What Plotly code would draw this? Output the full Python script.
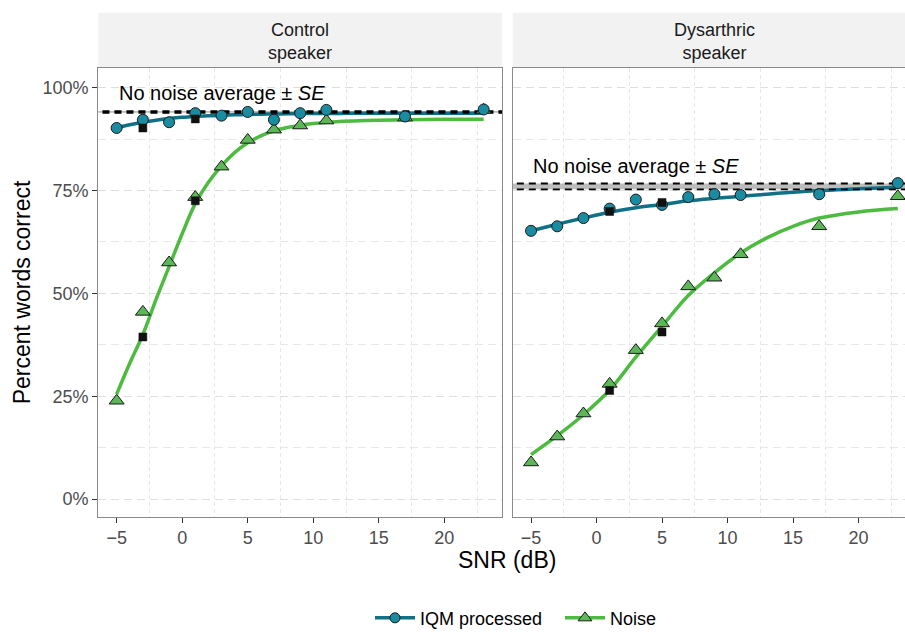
import plotly.graph_objects as go

# ---------------- data ----------------
snr_points = [-5, -3, -1, 1, 3, 5, 7, 9, 11, 17, 23]
ctrl_iqm = [90.2, 92.2, 91.6, 93.8, 93.2, 94.1, 92.2, 93.8, 94.6, 93.0, 94.7]
ctrl_noise = [23.9, 45.5, 57.5, 73.4, 80.8, 87.3, 89.8, 90.8, 92.0, 92.7, 94.6]
dys_iqm = [65.2, 66.3, 68.3, 70.6, 72.8, 71.5, 73.4, 74.1, 73.9, 74.1, 76.8]
dys_noise = [8.9, 15.2, 20.8, 28.0, 36.2, 42.7, 51.7, 53.8, 59.5, 66.3, 73.6]

sq_ctrl_x = [-3, -3, 1, 1]
sq_ctrl_y = [39.4, 90.2, 72.5, 92.4]
sq_dys_x = [1, 1, 5, 5]
sq_dys_y = [26.4, 69.9, 40.6, 72.1]

fit_x_ctrl = [-5, -4, -3, -2, -1, 0, 1, 2, 3, 4, 5, 6, 7, 8, 9, 10, 12, 14, 17, 20, 23]
ctrl_noise_fit = [25.5, 33.0, 40.0, 48.5, 56.5, 64.5, 71.8, 77.0, 81.0, 84.2, 86.6, 88.3,
                  89.5, 90.3, 90.9, 91.3, 91.8, 92.0, 92.2, 92.3, 92.3]
ctrl_iqm_fit = [90.3, 91.0, 91.6, 92.1, 92.5, 92.8, 93.0, 93.15, 93.3, 93.4, 93.5, 93.55,
                93.6, 93.65, 93.7, 93.7, 93.75, 93.8, 93.8, 93.8, 93.8]

fit_x_dys = [-5, -3, -1, 1, 3, 5, 7, 9, 11, 13, 15, 17, 20, 23]
dys_iqm_fit = [65.2, 66.8, 68.3, 69.7, 70.8, 71.6, 72.5, 73.1, 73.6, 74.1, 74.6, 75.0, 75.4, 75.8]
dys_noise_fit = [10.8, 15.4, 20.5, 26.5, 34.5, 42.0, 49.5, 55.0, 59.8, 63.5, 66.3, 68.3, 69.8, 70.6]

ctrl_avg, ctrl_se = 94.1, 0.2
dys_avg, dys_se = 76.0, 0.7

panels = ["Control<br>speaker", "Dysarthric<br>speaker"]
y_tickvals = [0, 25, 50, 75, 100]
y_ticktext = ["0%", "25%", "50%", "75%", "100%"]
x_tickvals = [-5, 0, 5, 10, 15, 20]
series_names = ["IQM processed", "Noise"]

# ---------------- style ----------------
TEAL_LINE = "#0f7086"
TEAL_FILL = "#1a8ca2"
GREEN_LINE = "#4cbb3f"
GREEN_FILL = "#5cb857"
FONT = "Liberation Sans, Arial, sans-serif"
W, H = 905, 637

fig = go.Figure()

panel_data = [
    ("x", "y", ctrl_avg, ctrl_se, fit_x_ctrl, ctrl_iqm_fit, ctrl_noise_fit,
     ctrl_iqm, ctrl_noise, sq_ctrl_x, sq_ctrl_y),
    ("x2", "y2", dys_avg, dys_se, fit_x_dys, dys_iqm_fit, dys_noise_fit,
     dys_iqm, dys_noise, sq_dys_x, sq_dys_y),
]

for (xa, ya, avg, se, fx, fiqm, fnoise, piqm, pnoise, sqx, sqy) in panel_data:
    # SE band
    fig.add_trace(go.Scatter(x=[-7, 25, 25, -7], y=[avg - se, avg - se, avg + se, avg + se],
                             fill="toself", fillcolor="#bdbdbd", line=dict(width=0),
                             mode="lines", showlegend=False, hoverinfo="skip",
                             xaxis=xa, yaxis=ya))
    # fitted curves
    fig.add_trace(go.Scatter(x=fx, y=fnoise, mode="lines",
                             line=dict(color=GREEN_LINE, width=3.5, shape="spline", smoothing=1),
                             showlegend=False, xaxis=xa, yaxis=ya))
    fig.add_trace(go.Scatter(x=fx, y=fiqm, mode="lines",
                             line=dict(color=TEAL_LINE, width=3.5, shape="spline", smoothing=1),
                             showlegend=False, xaxis=xa, yaxis=ya))
    # dashed band edges
    for yy in (avg - se, avg + se):
        fig.add_trace(go.Scatter(x=[-7, 25], y=[yy, yy], mode="lines",
                                 line=dict(color="black", width=1.8, dash="7px,5px"),
                                 showlegend=False, hoverinfo="skip", xaxis=xa, yaxis=ya))
    # points
    fig.add_trace(go.Scatter(x=snr_points, y=pnoise, mode="markers",
                             marker=dict(symbol="triangle-up", size=13, color=GREEN_FILL,
                                         line=dict(color="#1a1a1a", width=1)),
                             showlegend=False, xaxis=xa, yaxis=ya))
    fig.add_trace(go.Scatter(x=snr_points, y=piqm, mode="markers",
                             marker=dict(symbol="circle", size=11, color=TEAL_FILL,
                                         line=dict(color="#1a1a1a", width=1)),
                             showlegend=False, xaxis=xa, yaxis=ya))
    fig.add_trace(go.Scatter(x=sqx, y=sqy, mode="markers",
                             marker=dict(symbol="square", size=8, color="#111111",
                                         line=dict(color="#111111", width=0.5)),
                             showlegend=False, xaxis=xa, yaxis=ya))

# legend entries
fig.add_trace(go.Scatter(x=[None], y=[None], mode="lines+markers", name=series_names[0],
                         line=dict(color=TEAL_LINE, width=3.5),
                         marker=dict(symbol="circle", size=10, color=TEAL_FILL,
                                     line=dict(color="#1a1a1a", width=1))))
fig.add_trace(go.Scatter(x=[None], y=[None], mode="lines+markers", name=series_names[1],
                         line=dict(color=GREEN_LINE, width=3.5),
                         marker=dict(symbol="triangle-up", size=12, color=GREEN_FILL,
                                     line=dict(color="#1a1a1a", width=1))))

# geometry (pixels)
L1, R1 = 98.3, 502.0
L2 = 512.7
TOP, BOT = 69.0, 525.0
STRIP_TOP = 13.0

def px_x(p):
    return p / W

def px_y(p):
    return (H - p) / H

grid_major = "#dedede"
grid_minor = "#e8e8e8"

xcommon = dict(tickvals=x_tickvals, ticks="outside", ticklen=5, tickcolor="#333333",
               tickwidth=1, showgrid=False, zeroline=False,
               tickfont=dict(size=18, color="#4d4d4d", family=FONT),
               minor=dict(tickmode="array", tickvals=[-2.5, 2.5, 7.5, 12.5, 17.5, 22.5],
                          showgrid=True, gridcolor=grid_minor, griddash="4px,3px",
                          gridwidth=1, ticks=""),
               showline=True, linecolor="#8a8a8a", linewidth=1.2)
ycommon = dict(range=[-4.3, 104.8], tickvals=y_tickvals, ticktext=y_ticktext,
               showgrid=True, gridcolor=grid_major, griddash="8px,5px", gridwidth=1,
               zeroline=False,
               minor=dict(tickmode="array", tickvals=[12.5, 37.5, 62.5, 87.5],
                          showgrid=True, gridcolor=grid_minor, griddash="8px,5px",
                          gridwidth=1, ticks=""),
               showline=True, linecolor="#8a8a8a", linewidth=1.2,
               domain=[px_y(BOT), px_y(TOP)])

fig.update_layout(
    width=W, height=H,
    margin=dict(l=0, r=0, t=0, b=0),
    paper_bgcolor="white", plot_bgcolor="white",
    font=dict(family=FONT, color="black"),
    xaxis=dict(domain=[px_x(L1), px_x(R1)], range=[-6.4, 24.4], anchor="y",
               mirror=True, **xcommon),
    xaxis2=dict(domain=[px_x(L2), 1.0], range=[-6.4, 23.55], anchor="y2",
                mirror=True, **xcommon),
    yaxis=dict(anchor="x", ticks="outside", ticklen=5, tickcolor="#333333",
               tickfont=dict(size=18, color="#4d4d4d", family=FONT), mirror=True,
               **ycommon),
    yaxis2=dict(anchor="x2", ticks="", showticklabels=False, mirror=False, **ycommon),
    showlegend=True,
    legend=dict(orientation="h", x=px_x(370), xanchor="left", y=px_y(628), yanchor="middle",
                font=dict(size=18, family=FONT, color="black"), bgcolor="rgba(0,0,0,0)",
                itemwidth=40, entrywidth=135, entrywidthmode="pixels"),
)

# strips
for (x0, x1) in ((L1, R1), (L2, W + 12)):
    fig.add_shape(type="rect", xref="paper", yref="paper",
                  x0=px_x(x0), x1=px_x(x1), y0=px_y(TOP), y1=px_y(STRIP_TOP),
                  fillcolor="#f2f2f2", line=dict(width=0), layer="below")

strip_centers = [(L1 + R1) / 2, (L2 + L2 + (R1 - L1)) / 2]
for cx, label in zip(strip_centers, panels):
    fig.add_annotation(x=px_x(cx), y=px_y(42.5), xref="paper", yref="paper",
                       text=label, showarrow=False, xanchor="center", yanchor="middle",
                       font=dict(size=18, color="#1a1a1a", family=FONT))

# no-noise average labels
fig.add_annotation(x=-5, y=98.8, xref="x", yref="y", text="No noise average ± <i>SE</i>",
                   showarrow=False, xanchor="left", yanchor="middle",
                   font=dict(size=20, color="black", family=FONT))
fig.add_annotation(x=-5, y=81.0, xref="x2", yref="y2", text="No noise average ± <i>SE</i>",
                   showarrow=False, xanchor="left", yanchor="middle",
                   font=dict(size=20, color="black", family=FONT))

# axis titles
fig.add_annotation(x=px_x(507), y=px_y(569), xref="paper", yref="paper", text="SNR (dB)",
                   showarrow=False, xanchor="center", yanchor="middle",
                   font=dict(size=23, color="black", family=FONT))
fig.add_annotation(x=px_x(22), y=px_y((TOP + BOT) / 2), xref="paper", yref="paper",
                   text="Percent words correct", textangle=-90,
                   showarrow=False, xanchor="center", yanchor="middle",
                   font=dict(size=23, color="black", family=FONT))

fig.write_html("out.html")
